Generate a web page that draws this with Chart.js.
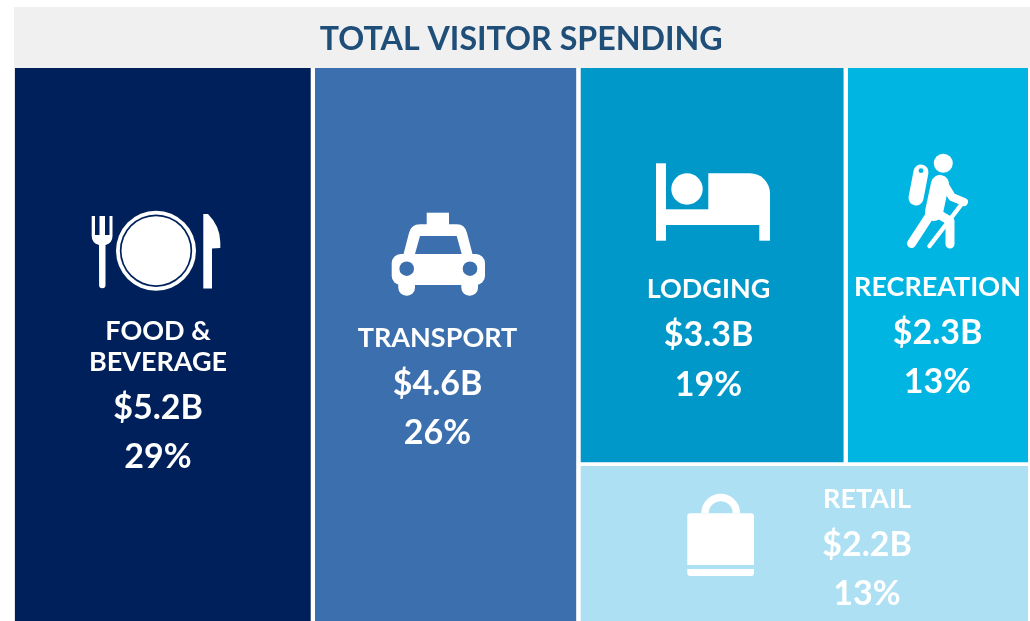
<!DOCTYPE html>
<html><head><meta charset="utf-8">
<style>html,body{margin:0;padding:0;background:#fff}canvas{display:block}</style>
<script src="https://cdn.jsdelivr.net/npm/chart.js@4"></script>
</head><body><canvas id="c" width="1030" height="621"></canvas>
<script>
const chartTitle = 'TOTAL VISITOR SPENDING';
const categories = ['Food','Transport','Lodging','Recreation','Retail'];
const nameLines = [['FOOD &','BEVERAGE'],['TRANSPORT'],['LODGING'],['RECREATION'],['RETAIL']];
const spending = [5.19,4.62,3.33,2.27,2.22];
const amountLabels = ['$5.2B','$4.6B','$3.3B','$2.3B','$2.2B'];
const shareLabels = ['29%','26%','19%','13%','13%'];
const tileColors = ['#00205b','#3c6fad','#0097c9','#00b5e2','#aee0f4'];

// Treemap layout from the values: two full-height columns, then a column with two tiles over one.
const total = spending.reduce((a,b)=>a+b,0);
const [food,transport,lodging,recreation,retail] = spending;
const rightCol = lodging+recreation+retail, topRow = lodging+recreation;
const split = topRow/rightCol;
const x1=food, x2=food+transport, x3=x2+lodging*rightCol/topRow;
const rects = [
  [0,x1,0,1],[x1,x2,0,1],[x2,x3,0,split],[x3,total,0,split],[x2,total,split,1]
];
const gapX=0.035, gapY=0.0034;
const datasets = rects.map((r,i)=>({
  label:categories[i],
  data:[{x:r[0]+(i?gapX:0),y:r[2]+(r[2]?gapY:0)},{x:r[1]-(r[1]<total?gapX:0),y:r[2]+(r[2]?gapY:0)}],
  showLine:true,pointRadius:0,borderWidth:0,borderColor:tileColors[i],
  backgroundColor:tileColors[i],
  fill:{value:r[3]-(r[3]<1?gapY:0)}
}));

const textStyle = [
  {cx:158,name:[331,362],amt:408,pct:457},
  {cx:437.5,name:[338],amt:384,pct:433},
  {cx:708.5,name:[289],amt:335,pct:385},
  {cx:937.5,name:[287],amt:333,pct:382},
  {cx:867,name:[499],amt:545,pct:594}
];

function rr(ctx,x,y,w,h,r){ctx.beginPath();ctx.roundRect(x,y,w,h,r);ctx.fill();}
function circ(ctx,x,y,r){ctx.beginPath();ctx.arc(x,y,r,0,Math.PI*2);ctx.fill();}
function stroke(ctx,pts,w){ctx.lineWidth=w;ctx.lineCap='round';ctx.lineJoin='round';ctx.beginPath();
  pts.forEach((p,i)=>i?ctx.lineTo(p[0],p[1]):ctx.moveTo(p[0],p[1]));ctx.stroke();}

const icons = [
 function(ctx,bg){ // plate
  ctx.beginPath();
  ctx.moveTo(91.7,216);ctx.lineTo(95,216);ctx.lineTo(95,235);ctx.lineTo(99.5,235);ctx.lineTo(99.5,216);
  ctx.lineTo(105,216);ctx.lineTo(105,235);ctx.lineTo(109.5,235);ctx.lineTo(109.5,216);ctx.lineTo(112.5,216);
  ctx.lineTo(112.5,236);ctx.quadraticCurveTo(112.5,243,105.5,245);ctx.lineTo(105.5,285);
  ctx.arc(102.3,285,3.2,0,Math.PI);ctx.lineTo(99,245);ctx.quadraticCurveTo(91.7,243,91.7,236);ctx.closePath();ctx.fill();
  circ(ctx,156,250.7,40);ctx.fillStyle=bg;circ(ctx,156,250.7,36.2);ctx.fillStyle='#fff';circ(ctx,156,250.7,34.5);
  ctx.beginPath();ctx.moveTo(203.3,214);ctx.lineTo(208,214);ctx.quadraticCurveTo(220,226,220.3,242);ctx.lineTo(220.3,248);
  ctx.lineTo(212,248.5);ctx.lineTo(212,288.5);ctx.lineTo(203.3,288.5);ctx.closePath();ctx.fill();
 },
 function(ctx,bg){ // taxi
  ctx.fillRect(426.7,212.7,22.3,14);
  ctx.beginPath();ctx.moveTo(420,224.3);ctx.lineTo(457,224.3);ctx.quadraticCurveTo(465,224.3,467,233);ctx.lineTo(473,256);ctx.lineTo(403,256);
  ctx.lineTo(409,233);ctx.quadraticCurveTo(411,224.3,420,224.3);ctx.closePath();ctx.fill();
  rr(ctx,391.7,254,93.3,31,9);
  rr(ctx,398.3,278,16.7,17.7,[0,0,8,8]);rr(ctx,461.3,278,16.7,17.7,[0,0,8,8]);
  ctx.fillStyle=bg;
  ctx.beginPath();ctx.moveTo(420,236);ctx.lineTo(456.7,236);ctx.lineTo(461.7,254);ctx.lineTo(415,254);ctx.closePath();ctx.fill();
  circ(ctx,406.7,268.7,7.3);circ(ctx,470,268.7,7.3);
 },
 function(ctx){ // bed
  ctx.fillRect(656,163.3,10,77.4);ctx.fillRect(656,209.3,114,15.7);ctx.fillRect(759.3,220,10.7,20.7);
  rr(ctx,708.3,173.3,61.7,40,[0,20,0,0]);circ(ctx,687,189,15.7);
 },
 function(ctx,bg){ // hiker
  circ(ctx,943.3,163.3,9.5);
  ctx.strokeStyle='#fff';
  stroke(ctx,[[921,172],[916,198]],15);
  ctx.fillStyle=bg;circ(ctx,921,170.7,2.4);ctx.fillStyle='#fff';
  stroke(ctx,[[940,184],[934,212]],18);
  stroke(ctx,[[943,182],[952,197],[964,202]],8);
  stroke(ctx,[[932,212],[911.5,243.5]],9);
  stroke(ctx,[[935,212],[950,221],[950,244]],9);
  stroke(ctx,[[961,205],[929.5,246]],4.5);
 },
 function(ctx){ // bag
  ctx.strokeStyle='#fff';ctx.lineWidth=7.5;ctx.lineCap='butt';
  ctx.beginPath();ctx.arc(720.7,513.3,15.7,Math.PI,0);ctx.stroke();
  rr(ctx,687.3,513.3,66.7,51.7,[3,3,0,0]);
  rr(ctx,687.3,569,66.7,7,[0,0,3,3]);
 }
];

const decor = {
  id:'decor',
  beforeDraw(chart){
    const ctx=chart.ctx;ctx.save();ctx.fillStyle='#f0f0f0';ctx.fillRect(14,7,1016,61);ctx.restore();
  },
  afterDatasetsDraw(chart){
    const ctx=chart.ctx;
    icons.forEach((f,i)=>{ctx.save();ctx.fillStyle='#fff';f(ctx,tileColors[i]);ctx.restore();});
    ctx.save();ctx.fillStyle='#fff';ctx.textAlign='center';ctx.textBaseline='middle';
    textStyle.forEach((s,i)=>{
      ctx.font='700 27px Lato';
      nameLines[i].forEach((t,j)=>ctx.fillText(t,s.cx,s.name[j]));
      ctx.font='700 34px Lato';
      ctx.fillText(amountLabels[i],s.cx,s.amt);
      ctx.fillText(shareLabels[i],s.cx,s.pct);
    });
    ctx.restore();
  }
};

new Chart(document.getElementById('c'),{
  type:'scatter',
  data:{datasets},
  plugins:[decor],
  options:{
    responsive:false,animation:false,
    layout:{padding:{left:14.5,right:2,top:7,bottom:0}},
    plugins:{
      legend:{display:false},tooltip:{enabled:false},
      title:{display:true,text:chartTitle,color:'#1f4e79',font:{family:'Lato',size:32.2,weight:'700',lineHeight:1.2},padding:{top:13,bottom:9.36}}
    },
    scales:{
      x:{type:'linear',display:false,min:0,max:total},
      y:{type:'linear',display:false,min:0,max:1,reverse:true}
    }
  }
});
</script></body></html>
